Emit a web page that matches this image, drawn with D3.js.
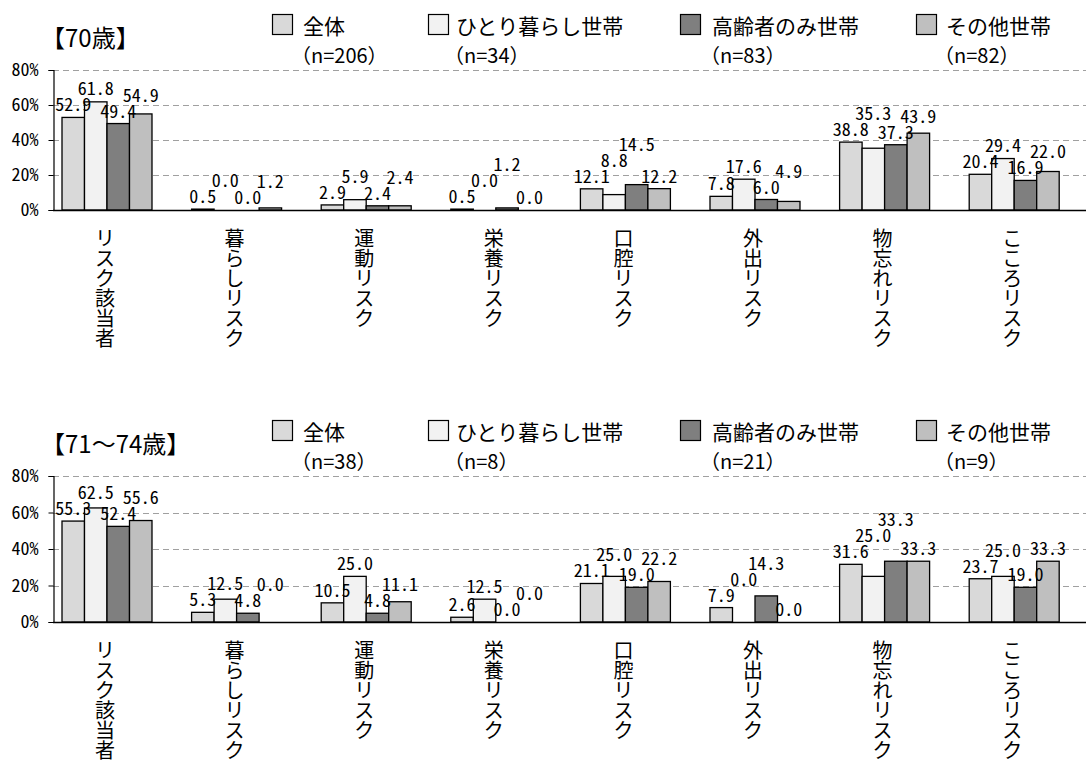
<!DOCTYPE html>
<html>
<head>
<meta charset="utf-8">
<script src="https://cdn.jsdelivr.net/npm/d3@7"></script>
<style>
  html, body { margin: 0; padding: 0; background: #fff; }
  svg { display: block; }
</style>
</head>
<body>
<svg id="chart" width="1086" height="762"></svg>
<script>
// ---------- data ----------
const categories = ["リスク該当者", "暮らしリスク", "運動リスク", "栄養リスク", "口腔リスク", "外出リスク", "物忘れリスク", "こころリスク"];
const seriesNames = ["全体", "ひとり暮らし世帯", "高齢者のみ世帯", "その他世帯"];
const yTicks = [0, 20, 40, 60, 80];

const title70 = "【70歳】";
const n70 = [206, 34, 83, 82];
const all70 = [52.9, 0.5, 2.9, 0.5, 12.1, 7.8, 38.8, 20.4];
const single70 = [61.8, 0.0, 5.9, 0.0, 8.8, 17.6, 35.3, 29.4];
const elderly70 = [49.4, 0.0, 2.4, 1.2, 14.5, 6.0, 37.3, 16.9];
const other70 = [54.9, 1.2, 2.4, 0.0, 12.2, 4.9, 43.9, 22.0];

const title7174 = "【71～74歳】";
const n7174 = [38, 8, 21, 9];
const all7174 = [55.3, 5.3, 10.5, 2.6, 21.1, 7.9, 31.6, 23.7];
const single7174 = [62.5, 12.5, 25.0, 12.5, 25.0, 0.0, 25.0, 25.0];
const elderly7174 = [52.4, 4.8, 4.8, 0.0, 19.0, 14.3, 33.3, 19.0];
const other7174 = [55.6, 0.0, 11.1, 0.0, 22.2, 0.0, 33.3, 33.3];

// ---------- styles ----------
const colors = ["#d9d9d9", "#f2f2f2", "#7f7f7f", "#bfbfbf"];
const jpFont = "'Noto Sans CJK JP', 'Noto Sans', sans-serif";
const monoFont = "'Noto Sans Mono CJK JP', 'Noto Sans CJK JP', 'DejaVu Sans Mono', monospace";

const svg = d3.select("#chart");

const panels = [
  { title: title70, n: n70, series: [all70, single70, elderly70, other70], top: 0, y0: 210, y80: 70 },
  { title: title7174, n: n7174, series: [all7174, single7174, elderly7174, other7174], top: 406, y0: 622, y80: 476 }
];

const legendBoxX = [272, 428, 680, 916];
const legendTextX = [303, 456, 712, 946];

const x = d3.scaleBand().domain(categories).range([42.2, 1079]).paddingInner(0.3056).paddingOuter(0.1528);
const xInner = d3.scaleBand().domain(seriesNames).range([0, x.bandwidth()]);

const axisLeft = 53, axisRight = 1086;

panels.forEach(p => {
  const g = svg.append("g");
  const y = d3.scaleLinear().domain([0, 80]).range([p.y0, p.y80]);

  // title
  g.append("text").attr("x", 41).attr("y", p.top + 36)
    .attr("dominant-baseline", "central")
    .style("font-family", jpFont).style("font-size", "24px").attr("fill", "#000")
    .text(p.title);

  // legend
  seriesNames.forEach((s, i) => {
    g.append("rect").attr("x", legendBoxX[i] + 0.5).attr("y", p.top + 14.5)
      .attr("width", 20).attr("height", 20)
      .attr("fill", colors[i]).attr("stroke", "#000").attr("stroke-width", 1.2);
    g.append("text").attr("x", legendTextX[i]).attr("y", p.top + 24.5)
      .attr("dominant-baseline", "central")
      .style("font-family", jpFont).style("font-size", "21px").attr("fill", "#000")
      .text(s);
    g.append("text").attr("x", legendTextX[i] - 12).attr("y", p.top + 54)
      .attr("dominant-baseline", "central")
      .style("font-family", jpFont).style("font-size", "20px").attr("fill", "#000")
      .text("（n=" + p.n[i] + "）");
  });

  // gridlines
  g.append("g").selectAll("line").data(yTicks.filter(t => t > 0)).join("line")
    .attr("x1", axisLeft).attr("x2", axisRight)
    .attr("y1", d => Math.round(y(d)) + 0.5).attr("y2", d => Math.round(y(d)) + 0.5)
    .attr("stroke", "#a0a0a0").attr("stroke-width", 1).attr("stroke-dasharray", "6,4");

  // y axis
  const ya = d3.axisLeft(y).tickValues(yTicks).tickFormat(d => d + "%").tickSize(5).tickPadding(10);
  const yg = g.append("g").attr("transform", `translate(${axisLeft + 0.5},0)`).call(ya);
  yg.select(".domain").attr("stroke", "#000").attr("stroke-width", 1.2);
  yg.selectAll(".tick line").attr("stroke", "#000");
  yg.selectAll(".tick text").style("font-family", monoFont).style("font-size", "18px").attr("fill", "#000");

  // bars
  const cells = [];
  categories.forEach((c, ci) => {
    seriesNames.forEach((s, si) => {
      cells.push({ c, s, si, v: p.series[si][ci] });
    });
  });

  g.append("g").selectAll("rect").data(cells.filter(d => d.v > 0)).join("rect")
    .attr("x", d => x(d.c) + xInner(d.s))
    .attr("y", d => y(d.v))
    .attr("width", xInner.bandwidth())
    .attr("height", d => y(0) - y(d.v))
    .attr("fill", d => colors[d.si])
    .attr("stroke", "#000").attr("stroke-width", 1.3);

  // x axis baseline
  g.append("line").attr("x1", axisLeft).attr("x2", axisRight)
    .attr("y1", y(0) + 0.5).attr("y2", y(0) + 0.5)
    .attr("stroke", "#000").attr("stroke-width", 1.3);

  // data labels with simple collision avoidance
  const lh = 16, lw = 36;
  categories.forEach(c => {
    const placed = [];
    cells.filter(d => d.c === c).forEach(d => {
      const cx = x(d.c) + xInner(d.s) + xInner.bandwidth() / 2;
      let cy = y(d.v) - 14;
      let moved = true;
      while (moved) {
        moved = false;
        placed.forEach(q => {
          if (Math.abs(q.cx - cx) < lw && Math.abs(q.cy - cy) < lh) {
            cy = q.cy - lh;
            moved = true;
          }
        });
      }
      placed.push({ cx, cy });
      g.append("text").attr("x", cx).attr("y", cy)
        .attr("text-anchor", "middle").attr("dominant-baseline", "central")
        .style("font-family", monoFont).style("font-size", "18px").attr("fill", "#000")
        .text(d.v.toFixed(1));
    });
  });

  // category labels (vertical, one character per line)
  categories.forEach(c => {
    const cx = x(c) + x.bandwidth() / 2 - 2;
    const t = g.append("text").attr("text-anchor", "middle")
      .style("font-family", jpFont).style("font-size", "20px").attr("fill", "#000");
    Array.from(c).forEach((ch, k) => {
      t.append("tspan").attr("x", cx).attr("y", y(0) + 27 + k * 20)
        .attr("dominant-baseline", "central").text(ch);
    });
  });
});
</script>
</body>
</html>
